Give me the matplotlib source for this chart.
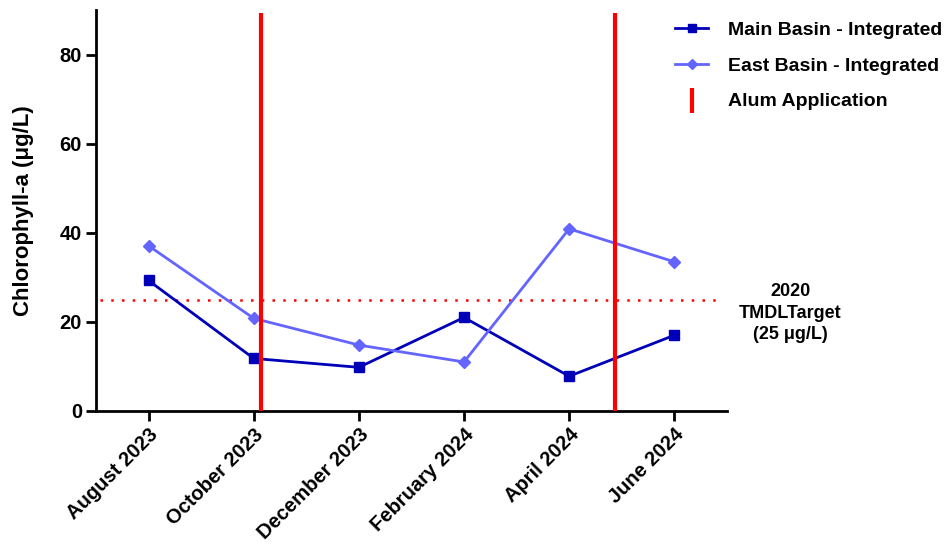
import matplotlib
matplotlib.use("Agg")
import matplotlib.pyplot as plt
from matplotlib.lines import Line2D

months = ["August 2023", "October 2023", "December 2023", "February 2024", "April 2024", "June 2024"]
main_basin = [29.3, 11.8, 9.8, 21.0, 7.8, 17.0]
east_basin = [37.1, 20.8, 14.8, 11.0, 40.9, 33.5]
alum_positions = [1.07, 4.44]
target = 25

plt.rcParams['font.family'] = ['Liberation Sans', 'DejaVu Sans']
plt.rcParams['font.weight'] = 'bold'

fig = plt.figure(figsize=(9.53, 5.59), dpi=100)
ax = fig.add_axes([0.1007, 0.2648, 0.662, 0.717])

x = list(range(len(months)))
main_c = '#0000B8'
east_c = '#6464FF'
ax.plot(x, main_basin, color=main_c, lw=2, marker='s', ms=7, zorder=3)
ax.plot(x, east_basin, color=east_c, lw=2, marker='D', ms=6.5, zorder=3)
for p in alum_positions:
    ax.vlines(p, 0, 89.3, color='#FF0000', lw=3, zorder=4)
ax.hlines(target, -0.46, 5.42, color='#FF0000', lw=1.8, linestyles=(0, (1, 3.3)), zorder=2)

ax.set_xlim(-0.5, 5.5)
ax.set_ylim(0, 90)
ax.set_yticks([0, 20, 40, 60, 80])
ax.set_xticks(x)
ax.set_xticklabels(months, rotation=45, ha='right', rotation_mode='anchor', fontsize=14.5, fontweight='bold')
for lab in ax.get_yticklabels():
    lab.set_fontsize(14.5)
    lab.set_fontweight('bold')
ax.set_ylabel("Chlorophyll-a (μg/L)", fontsize=16, fontweight='bold')
ax.yaxis.set_label_coords(-0.098, 0.5)

for s in ['top', 'right']:
    ax.spines[s].set_visible(False)
for s in ['left', 'bottom']:
    ax.spines[s].set_linewidth(2)
ax.tick_params(width=2, length=7, direction='out', pad=3)

fig.text(0.829, 0.44, "2020\nTMDLTarget\n(25 μg/L)", ha='center', va='center',
         fontsize=13, fontweight='bold', linespacing=1.38)

handles = [Line2D([], [], color=main_c, lw=2, marker='s', ms=6),
           Line2D([], [], color=east_c, lw=2, marker='D', ms=5.5),
           Line2D([], [], color='#FF0000', lw=0, marker='|', ms=18, mew=3)]
labels = ["Main Basin - Integrated", "East Basin - Integrated", "Alum Application"]
leg = fig.legend(handles, labels, loc='upper left', bbox_to_anchor=(0.69, 0.993),
                 frameon=False, fontsize=14, handlelength=1.7, labelspacing=0.93,
                 handletextpad=1.0)
for t in leg.get_texts():
    t.set_fontweight('bold')

fig.savefig("out.png", dpi=100)
